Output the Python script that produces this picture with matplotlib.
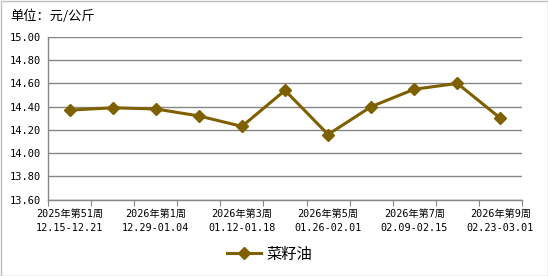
import matplotlib
matplotlib.use("Agg")
import matplotlib.pyplot as plt
from matplotlib.lines import Line2D
from matplotlib.patches import Rectangle

plt.rcParams['font.family'] = ['Noto Sans CJK SC', 'DejaVu Sans']

weeks = ["2025年第51周\n12.15-12.21", "2025年第52周\n12.22-12.28", "2026年第1周\n12.29-01.04",
         "2026年第2周\n01.05-01.11", "2026年第3周\n01.12-01.18", "2026年第4周\n01.19-01.25",
         "2026年第5周\n01.26-02.01", "2026年第6周\n02.02-02.08", "2026年第7周\n02.09-02.15",
         "2026年第8周\n02.16-02.22", "2026年第9周\n02.23-03.01"]
values = [14.37, 14.39, 14.38, 14.32, 14.23, 14.54, 14.16, 14.40, 14.55, 14.60, 14.30]
series_name = "菜籽油"
unit = "单位：元/公斤"
yticks = [13.60, 13.80, 14.00, 14.20, 14.40, 14.60, 14.80, 15.00]

color = "#7F6000"
mono = ['DejaVu Sans Mono', 'Noto Sans CJK SC']
W, H = 548, 276
fig = plt.figure(figsize=(W/100, H/100), dpi=100)
ax = fig.add_axes([48/W, 1-199.5/H, (522-48)/W, (199.5-37)/H])

x = list(range(len(values)))
ax.plot(x, values, color=color, lw=2.2, marker='D', ms=6.5, mec=color, mfc=color, zorder=3)
ax.set_xlim(-0.5, len(values)-0.5)
ax.set_ylim(13.60, 15.00)
ax.set_yticks(yticks)
ax.set_yticklabels([f"{v:.2f}" for v in yticks], fontsize=7.5, family=mono)
ax.yaxis.grid(True, color="#868686", lw=1)
ax.set_axisbelow(True)
ax.tick_params(axis='y', length=0, pad=5)

ax.set_xticks([i + 0.5 for i in range(-1, len(values))], minor=False)
ax.set_xticklabels([])
ax.tick_params(axis='x', which='major', length=4, color="#868686", direction='out')
ax.set_xticks(x[::2], minor=True)
ax.set_xticklabels(weeks[::2], minor=True, fontsize=7.3, linespacing=1.45, family=mono)
ax.tick_params(axis='x', which='minor', length=0, pad=7)

for s in ['top', 'right']:
    ax.spines[s].set_visible(False)
for s in ['left', 'bottom']:
    ax.spines[s].set_color("#868686")
    ax.spines[s].set_linewidth(1)

fig.text(10/W, 1-16.5/H, unit, fontsize=9.5, va='center', ha='left')

handle = Line2D([], [], color=color, lw=2.2, marker='D', ms=6.5, mfc=color, mec=color)
fig.legend([handle], [series_name], loc='center', bbox_to_anchor=(0.492, 1-254/H),
           frameon=False, fontsize=11, handlelength=2.2, handletextpad=0.35)

fig.patches.append(Rectangle((0.5/W, 0.5/H), 1-1/W, 1-1/H, transform=fig.transFigure,
                             fill=False, edgecolor="#BFBFBF", lw=1))
fig.savefig("out.png", dpi=100, facecolor='white')
